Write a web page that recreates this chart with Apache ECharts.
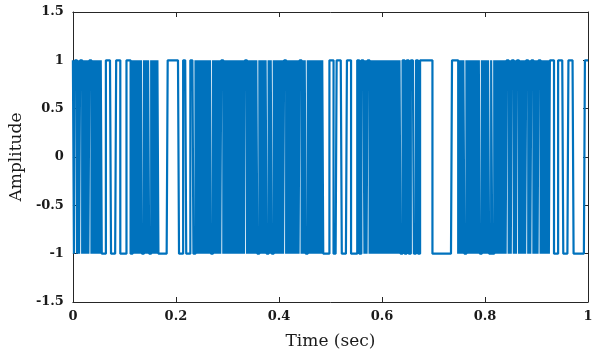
<!DOCTYPE html>
<html>
<head>
<meta charset="utf-8">
<script src="https://cdn.jsdelivr.net/npm/echarts@6/dist/echarts.min.js"></script>
<style>
html,body{margin:0;padding:0;background:#fff;}
#chart{width:598px;height:355px;}
</style>
</head>
<body>
<div id="chart"></div>
<script>
// Time axis ticks (sec) and amplitude ticks
const timeTicks = [0, 0.2, 0.4, 0.6, 0.8, 1];
const ampTicks = [-1.5, -1, -0.5, 0, 0.5, 1, 1.5];
// Sample spacing (sec) of the binary signal
const sampleStep = 0.002;
// Signal levels, one character per sample: 1 => +1, 0 => -1 (each row = 0.1 s)
const bitRows = [
  "1011010110 1010101101 0101010100 0011111000 0011110000",
  "0011110010 1010101001 0101001010 1010000000 0011111111",
  "1110000111 0000111001 0101010101 0101001010 1010110101",
  "0101010101 0101010110 1010101010 0101010100 1010010101",
  "0101011010 1010101010 1101010010 1010101010 1010000001",
  "1110001111 1000001111 0000001100 1110101101 0101010101",
  "0101010101 0101010100 1100110011 1001100111 1111111110",
  "0000000000 0000000011 1111010101 0010101010 1010100101",
  "0101001001 0101010101 0110101101 0110101010 1101011010",
  "1011010101 0101111000 0111110000 0111110000 0000000111"
];

const bits = bitRows.join("").replace(/\s+/g, "");
const data = [];
for (let i = 0; i < bits.length; i++) {
  data.push([+(i * sampleStep).toFixed(4), bits[i] === "1" ? 1 : -1]);
}
data.push([1, bits[bits.length - 1] === "1" ? 1 : -1]);

const axisColor = '#262626';
const labelFont = { fontFamily: 'DejaVu Serif', fontWeight: 'bold', fontSize: 13, color: '#1a1a1a' };
const nameFont = { fontFamily: 'DejaVu Serif', fontSize: 17, color: '#1a1a1a' };

const chart = echarts.init(document.getElementById('chart'), null, { renderer: 'canvas' });
chart.setOption({
  animation: false,
  backgroundColor: '#ffffff',
  grid: { left: 72, right: 10, top: 12, bottom: 53, containLabel: false },
  xAxis: [{
    type: 'value', min: timeTicks[0], max: timeTicks[timeTicks.length - 1], interval: 0.2,
    position: 'bottom',
    name: 'Time (sec)', nameLocation: 'middle', nameGap: 31, nameTextStyle: nameFont,
    axisLine: { onZero: false, lineStyle: { color: axisColor, width: 1 } },
    axisTick: { inside: true, length: 5, lineStyle: { color: axisColor } },
    axisLabel: Object.assign({ margin: 8 }, labelFont),
    splitLine: { show: false }
  }, {
    type: 'value', min: timeTicks[0], max: timeTicks[timeTicks.length - 1], interval: 0.2,
    position: 'top',
    axisLine: { onZero: false, lineStyle: { color: axisColor, width: 1 } },
    axisTick: { inside: true, length: 5, lineStyle: { color: axisColor } },
    axisLabel: { show: false },
    splitLine: { show: false }
  }],
  yAxis: [{
    type: 'value', min: ampTicks[0], max: ampTicks[ampTicks.length - 1], interval: 0.5,
    position: 'left',
    name: 'Amplitude', nameLocation: 'middle', nameGap: 37, nameTextStyle: nameFont,
    axisLine: { show: true, onZero: false, lineStyle: { color: axisColor, width: 1 } },
    axisTick: { show: true, inside: true, length: 5, lineStyle: { color: axisColor } },
    axisLabel: Object.assign({ margin: 9 }, labelFont),
    splitLine: { show: false }
  }, {
    type: 'value', min: ampTicks[0], max: ampTicks[ampTicks.length - 1], interval: 0.5,
    position: 'right',
    axisLine: { show: true, onZero: false, lineStyle: { color: axisColor, width: 1 } },
    axisTick: { show: true, inside: true, length: 5, lineStyle: { color: axisColor } },
    axisLabel: { show: false },
    splitLine: { show: false }
  }],
  series: [{
    type: 'line',
    xAxisIndex: 0, yAxisIndex: 0,
    data: data,
    step: 'end',
    showSymbol: false,
    symbol: 'none',
    lineStyle: { color: '#0072BD', width: 2.2 },
    silent: true
  }]
});
</script>
</body>
</html>
